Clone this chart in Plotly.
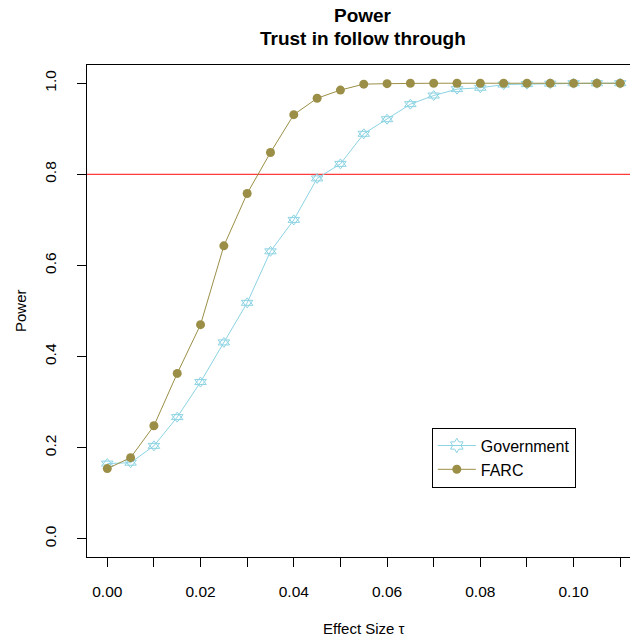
import plotly.graph_objects as go

effect_size = [0.000, 0.005, 0.010, 0.015, 0.020, 0.025, 0.030, 0.035, 0.040, 0.045,
               0.050, 0.055, 0.060, 0.065, 0.070, 0.075, 0.080, 0.085, 0.090, 0.095,
               0.100, 0.105, 0.110]
power_government = [0.165, 0.167, 0.204, 0.267, 0.344, 0.431, 0.518, 0.631, 0.700, 0.791,
                    0.823, 0.889, 0.921, 0.954, 0.973, 0.987, 0.990, 0.997, 0.998, 0.999,
                    1.000, 1.000, 1.000]
power_farc = [0.154, 0.178, 0.248, 0.363, 0.470, 0.643, 0.758, 0.848, 0.931, 0.967,
              0.985, 0.998, 0.999, 1.000, 1.000, 1.000, 1.000, 1.000, 1.000, 1.000,
              1.000, 1.000, 1.000]
threshold = 0.8

x_tickvals = [0.00, 0.01, 0.02, 0.03, 0.04, 0.05, 0.06, 0.07, 0.08, 0.09, 0.10, 0.11]
x_ticktext = ["0.00", "", "0.02", "", "0.04", "", "0.06", "", "0.08", "", "0.10", ""]
y_tickvals = [0.0, 0.2, 0.4, 0.6, 0.8, 1.0]
y_ticktext = ["0.0", "0.2", "0.4", "0.6", "0.8", "1.0"]

GOV_COLOR = "#8CD3E3"
FARC_COLOR = "#9B8F47"
FONT = "Liberation Sans, Arial, Helvetica, sans-serif"

fig = go.Figure()
# Government: star of David marker drawn as two overlapping open triangles
fig.add_trace(go.Scatter(
    x=effect_size, y=power_government, name="Government", mode="lines+markers",
    line=dict(color=GOV_COLOR, width=1), showlegend=False, legendgroup="gov",
    marker=dict(symbol="triangle-up-open", size=10, color=GOV_COLOR, line=dict(width=1, color=GOV_COLOR)),
))
fig.add_trace(go.Scatter(
    x=effect_size, y=power_government, name="Government", mode="markers",
    showlegend=False, legendgroup="gov",
    marker=dict(symbol="triangle-down-open", size=10, color=GOV_COLOR, line=dict(width=1, color=GOV_COLOR)),
))
# legend entry for Government
fig.add_trace(go.Scatter(
    x=[None], y=[None], name="Government", mode="lines+markers", legendgroup="gov",
    line=dict(color=GOV_COLOR, width=1),
    marker=dict(symbol="hexagram-open", size=11, color=GOV_COLOR, line=dict(width=1, color=GOV_COLOR)),
))
fig.add_trace(go.Scatter(
    x=effect_size, y=power_farc, name="FARC", mode="lines+markers",
    line=dict(color=FARC_COLOR, width=1),
    marker=dict(symbol="circle", size=9, color=FARC_COLOR, line=dict(width=0)),
))
fig.add_hline(y=threshold, line=dict(color="#FF3B3B", width=1.2), layer="below")

fig.update_layout(
    width=630, height=639,
    margin=dict(l=87, r=0, t=65, b=82),
    paper_bgcolor="white", plot_bgcolor="white",
    font=dict(family=FONT, size=15, color="black"),
    showlegend=True,
    legend=dict(
        x=0.635, y=0.263, xanchor="left", yanchor="top",
        bordercolor="black", borderwidth=1, bgcolor="white",
        font=dict(size=16), tracegroupgap=0, itemwidth=38,
    ),
    xaxis=dict(
        range=[-0.00435, 0.1121], tickvals=x_tickvals, ticktext=x_ticktext,
        showgrid=False, zeroline=False, showline=True, linecolor="black", linewidth=1,
        mirror=True, ticks="outside", ticklen=9, tickcolor="black",
        ticklabelstandoff=11, tickfont=dict(size=15.5),
    ),
    yaxis=dict(
        range=[-0.04, 1.04], tickvals=y_tickvals, ticktext=y_ticktext,
        showgrid=False, zeroline=False, showline=True, linecolor="black", linewidth=1,
        mirror=False, ticks="outside", ticklen=9, tickcolor="black", tickangle=-90,
        ticklabelstandoff=15, tickfont=dict(size=15.5),
    ),
    annotations=[
        dict(text="<b>Power</b>", xref="paper", yref="paper", x=0.508, y=1.0,
             yanchor="middle", yshift=65 - 15, showarrow=False, font=dict(size=19)),
        dict(text="<b>Trust in follow through</b>", xref="paper", yref="paper", x=0.508, y=1.0,
             yanchor="middle", yshift=65 - 38, showarrow=False, font=dict(size=19)),
        dict(text="Effect Size τ", xref="paper", yref="paper", x=0.51, y=0.0,
             yanchor="middle", yshift=-(628 - 557), showarrow=False, font=dict(size=15)),
        dict(text="Power", xref="paper", yref="paper", x=0.0, y=0.5,
             xanchor="center", xshift=-(87 - 20), textangle=-90, showarrow=False, font=dict(size=15)),
    ],
)

fig.write_html("out.html")
